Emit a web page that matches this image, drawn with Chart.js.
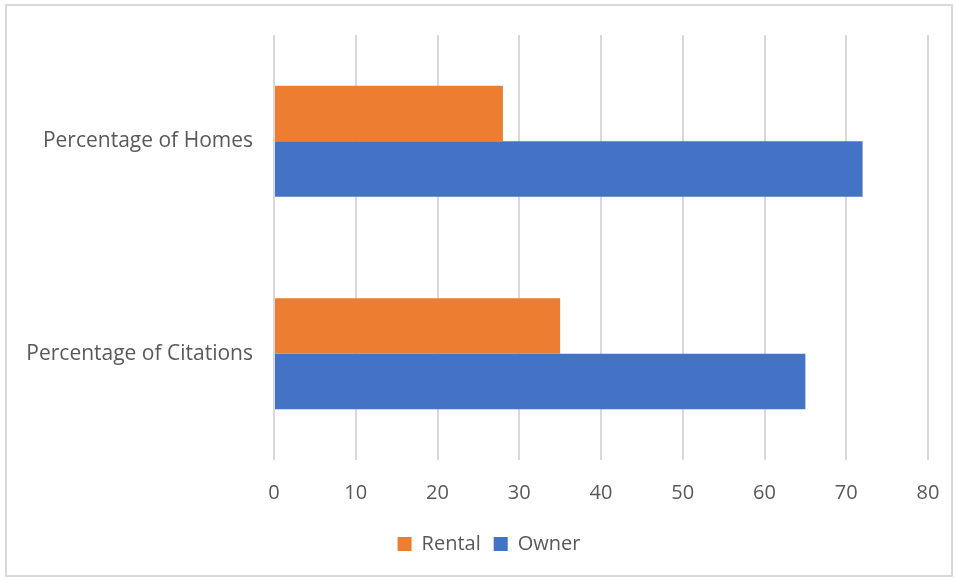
<!DOCTYPE html>
<html>
<head>
<meta charset="utf-8">
<script src="https://cdn.jsdelivr.net/npm/chart.js@4"></script>
<style>
  html, body { margin: 0; padding: 0; background: #fff; }
  #wrap { position: absolute; left: 0; top: 0; width: 956px; height: 581px; }
  #frame { position: absolute; left: 5px; top: 4px; width: 948px; height: 573px; border: 2px solid #d9d9d9; box-sizing: border-box; }
</style>
</head>
<body>
<div id="wrap">
  <div id="frame"></div>
  <canvas id="myCanvas" width="956" height="581"></canvas>
</div>
<script>
// categories, top to bottom as drawn
var categories = ['Percentage of Homes', 'Percentage of Citations'];
var rental = [28, 35];
var owner = [72, 65];
var xTicks = [0, 10, 20, 30, 40, 50, 60, 70, 80];

var textColor = '#595959';
var gridColor = '#d9d9d9';
var fontFamily = '"Open Sans", sans-serif';

// nudge the legend to the right, it sits off-centre in the original
var legendShift = {
    id: 'legendShift',
    afterLayout: function(chart) {
        chart.legend.left += 20;
        chart.legend.right += 20;
    }
};

var ctx = document.getElementById('myCanvas').getContext('2d');

var myChart = new Chart(ctx, {
    type: 'bar',
    data: {
        labels: categories,
        datasets: [{
            label: 'Rental',
            data: rental,
            backgroundColor: '#ED7D31',
            borderWidth: 0
        }, {
            label: 'Owner',
            data: owner,
            backgroundColor: '#4472C4',
            borderWidth: 0
        }]
    },
    options: {
        indexAxis: 'y',
        responsive: false,
        animation: false,
        categoryPercentage: 0.523,
        barPercentage: 1,
        layout: {
            padding: { top: 35, right: 28, left: 10, bottom: 17 }
        },
        scales: {
            x: {
                min: xTicks[0],
                max: xTicks[xTicks.length - 1],
                afterBuildTicks: function(axis) {
                    axis.ticks = xTicks.map(function(v) { return { value: v }; });
                },
                afterFit: function(axis) {
                    axis.height = 61;
                    axis.paddingLeft = 0;
                    axis.paddingRight = 0;
                },
                grid: { color: gridColor, lineWidth: 2, drawTicks: false },
                border: { display: false },
                ticks: { color: textColor, font: { family: fontFamily, size: 20 }, padding: 21 }
            },
            y: {
                afterFit: function(axis) {
                    axis.width = 264;
                    axis.paddingTop = 0;
                    axis.paddingBottom = 0;
                },
                grid: { display: false, drawTicks: false },
                border: { display: false },
                ticks: { color: textColor, font: { family: fontFamily, size: 21 }, padding: 21 }
            }
        },
        plugins: {
            legend: {
                position: 'bottom',
                labels: {
                    color: textColor,
                    font: { family: fontFamily, size: 20 },
                    boxWidth: 14,
                    boxHeight: 14,
                    padding: 13
                }
            },
            tooltip: { enabled: false }
        }
    },
    plugins: [legendShift]
});
</script>
</body>
</html>
